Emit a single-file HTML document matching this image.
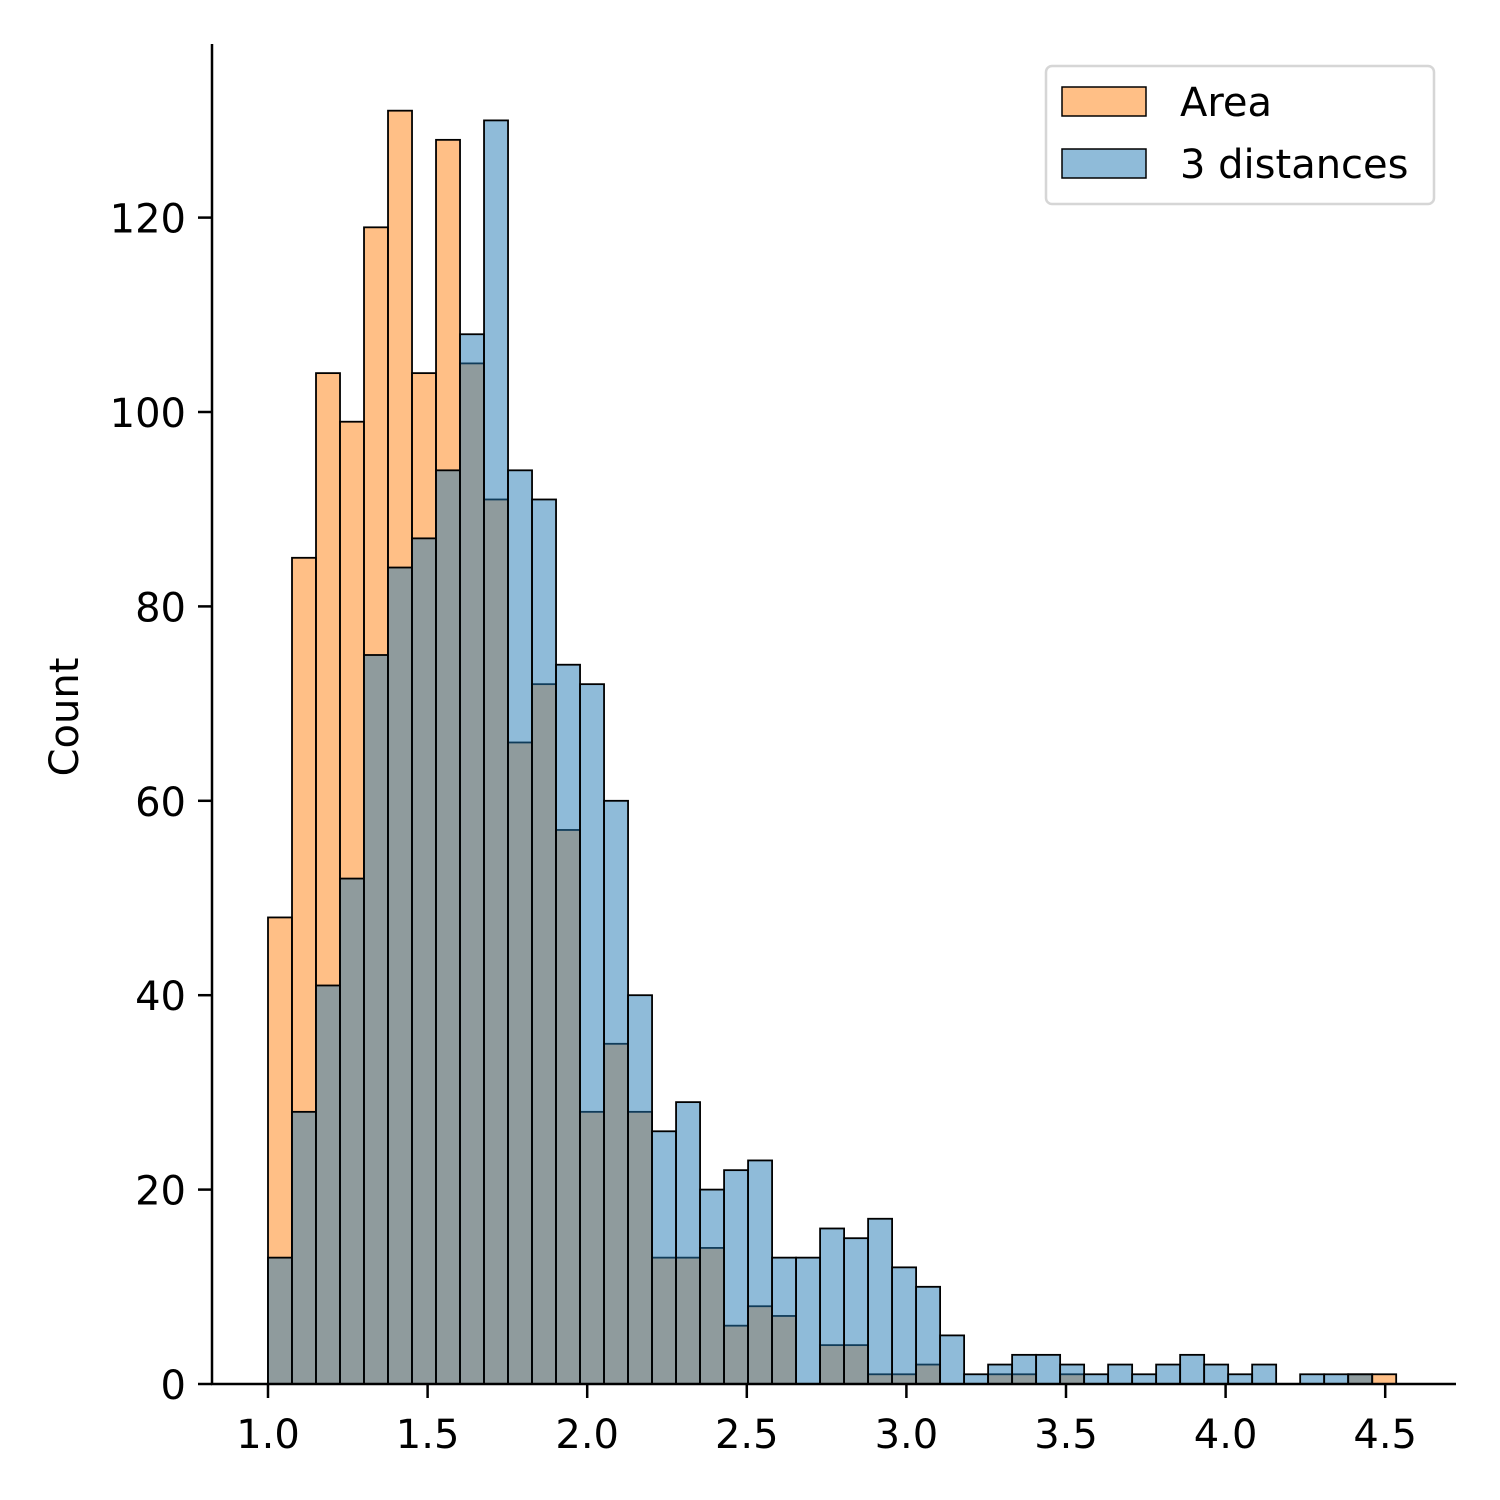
<!DOCTYPE html>
<html><head><meta charset="utf-8"><style>
html,body{margin:0;padding:0;background:#fff;}
svg{display:block;font-family:"DejaVu Sans","Liberation Sans",sans-serif;}
</style></head><body>
<svg id="chart" width="1500" height="1500" viewBox="0 0 1500 1500">
<g id="bars"></g>
<g id="axes"></g>
<g id="legend">
<rect x="1046" y="66" width="388" height="138" rx="6" fill="#fff" fill-opacity="0.8" stroke="#d6d6d6" stroke-width="2.5"/>
<rect x="1062" y="87" width="84" height="29" fill="#ff7f0e" fill-opacity="0.5" stroke="#000" stroke-width="1.5"/>
<text x="1180" y="116" font-size="40">Area</text>
<rect x="1062" y="149" width="84" height="29" fill="#1f77b4" fill-opacity="0.5" stroke="#000" stroke-width="1.5"/>
<text x="1180" y="178" font-size="40">3 distances</text>
</g>
<text transform="translate(78,717) rotate(-90)" text-anchor="middle" font-size="40">Count</text>
</svg>
<script>
const binStart = 1.0;
const binWidth = 0.0752;
const areaCounts = [48,85,104,99,119,131,104,128,105,91,66,72,57,28,35,28,13,13,14,6,8,7,0,4,4,1,1,2,0,0,1,1,0,1,0,0,0,0,0,0,0,0,0,0,0,1,1];
const distCounts = [13,28,41,52,75,84,87,94,108,130,94,91,74,72,60,40,26,29,20,22,23,13,13,16,15,17,12,10,5,1,2,3,3,2,1,2,1,2,3,2,1,2,0,1,1,1,0];
const xTicks = [1.0,1.5,2.0,2.5,3.0,3.5,4.0,4.5];
const yTicks = [0,20,40,60,80,100,120];

const NS = "http://www.w3.org/2000/svg";
const xS = v => 268 + (v - 1.0) * 319.2;
const yS = v => 1384 - v * 9.72;
function mk(tag, attrs, parent){const e=document.createElementNS(NS,tag);for(const k in attrs)e.setAttribute(k,attrs[k]);parent.appendChild(e);return e;}
const bars = document.getElementById('bars');
function drawSeries(counts, color, name){
  counts.forEach((c,i)=>{
    if(c<=0) return;
    const x0=xS(binStart+i*binWidth), x1=xS(binStart+(i+1)*binWidth);
    const r=mk('rect',{x:x0,y:yS(c),width:x1-x0,height:yS(0)-yS(c),fill:color,'fill-opacity':0.5,stroke:'#000','stroke-width':1.8},bars);
    
    
  });
}
drawSeries(areaCounts,'#ff7f0e','area');
drawSeries(distCounts,'#1f77b4','distances');

const axes = document.getElementById('axes');
let l=mk('line',{x1:212,y1:44,x2:212,y2:1385,stroke:'#000','stroke-width':2.5},axes);


l=mk('line',{x1:211,y1:1384,x2:1456,y2:1384,stroke:'#000','stroke-width':2.5},axes);


xTicks.forEach(v=>{
  const x=xS(v);
  const t=mk('line',{x1:x,y1:1384,x2:x,y2:1398,stroke:'#000','stroke-width':2.5},axes);
  
  
  const tx=mk('text',{x:x,y:1448,'text-anchor':'middle','font-size':40},axes);
  tx.textContent=v.toFixed(1);
  
  
});
yTicks.forEach(v=>{
  const y=yS(v);
  const t=mk('line',{x1:198,y1:y,x2:212,y2:y,stroke:'#000','stroke-width':2.5},axes);
  
  
  const tx=mk('text',{x:186,y:y+15,'text-anchor':'end','font-size':40},axes);
  tx.textContent=String(v);
  
  
});
</script>
</body></html>
